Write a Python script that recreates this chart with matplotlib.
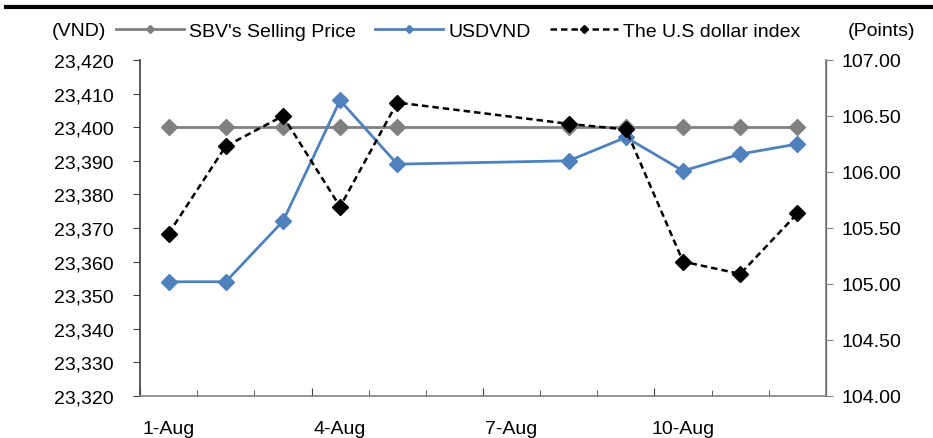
import matplotlib
matplotlib.use("Agg")
import matplotlib.pyplot as plt
from matplotlib.lines import Line2D
from matplotlib.ticker import FuncFormatter, FixedLocator

plt.rcParams['font.family'] = ['Liberation Sans', 'DejaVu Sans']

days = [1, 2, 3, 4, 5, 8, 9, 10, 11, 12]
sbv = [23400, 23400, 23400, 23400, 23400, 23400, 23400, 23400, 23400, 23400]
usdvnd = [23354, 23354, 23372, 23408, 23389, 23390, 23397, 23387, 23392, 23395]
dxy = [105.45, 106.23, 106.50, 105.69, 106.62, 106.43, 106.38, 105.20, 105.09, 105.63]
xlabels = ['1-Aug', '4-Aug', '7-Aug', '10-Aug']
xlabel_days = [1, 4, 7, 10]

fig = plt.figure(figsize=(9.33, 4.39), dpi=100)
ax = fig.add_axes([140/933, 1-397/439, (826-140)/933, (397-61)/439])
ax2 = ax.twinx()

fs = 14
ax.plot(days, sbv, color='#808080', lw=2, marker='D', ms=8, label="SBV's Selling Price", zorder=3)
ax.plot(days, usdvnd, color='#4F81BD', lw=2, marker='D', ms=8, label='USDVND', zorder=3)
ax2.plot(days, dxy, color='black', lw=1.8, ls=(0, (2.6, 1.6)), marker='D', ms=8,
         label='The U.S dollar index', zorder=3)

ax.set_xlim(0.5, 12.5)
ax.set_ylim(23320, 23420)
ax.set_yticks(range(23320, 23421, 10))
ax.yaxis.set_major_formatter(FuncFormatter(lambda v, p: f'{int(v):,}'))
ax2.set_ylim(104.0, 107.0)
ax2.set_yticks([104.0, 104.5, 105.0, 105.5, 106.0, 106.5, 107.0])
ax2.yaxis.set_major_formatter(FuncFormatter(lambda v, p: f'{v:.2f}'))

ax.set_xticks(xlabel_days)
ax.set_xticklabels(xlabels)
ax.xaxis.set_minor_locator(FixedLocator([d + 0.5 for d in range(1, 12)]))
ax.tick_params(axis='x', which='major', length=0, pad=17, labelsize=fs)
ax.tick_params(axis='x', which='minor', length=4, direction='in', color='#404040')
sec = ax.secondary_xaxis('bottom')
sec.set_xticks([0.5, 3.5, 6.5, 9.5])
sec.set_xticklabels([])
sec.tick_params(length=6, direction='in', color='#404040')
sec.spines['bottom'].set_visible(False)

ax.tick_params(axis='y', direction='out', length=5, labelsize=fs, color='#404040', pad=14)
ax2.tick_params(axis='y', direction='out', length=5, labelsize=fs, color='#808080', pad=6)

for a in (ax, ax2):
    a.spines['top'].set_visible(False)
ax.spines['left'].set_color('#404040')
ax.spines['bottom'].set_color('#808080')
ax2.spines['right'].set_color('#808080')
ax2.spines['left'].set_visible(False)
ax2.spines['bottom'].set_visible(False)
for s in ('left', 'bottom'):
    ax.spines[s].set_linewidth(1.2)
ax2.spines['right'].set_linewidth(1.2)

h1, l1 = ax.get_legend_handles_labels()
h2, l2 = ax2.get_legend_handles_labels()
fig.legend(h1 + h2, l1 + l2, loc='center left', bbox_to_anchor=(116/933, 1-32/439), ncol=3,
           frameon=False, fontsize=fs, handlelength=3.5, handletextpad=0.25, columnspacing=1.0,
           markerscale=0.45, borderpad=0, borderaxespad=0)
fig.text(52/933, 1-32/439, '(VND)', fontsize=fs, va='center', ha='left')
fig.text(915/933, 1-32/439, '(Points)', fontsize=fs, va='center', ha='right')

fig.add_artist(Line2D([6/933, 1], [1-8/439, 1-8/439], color='black', lw=3, transform=fig.transFigure))

fig.savefig('out.png', dpi=100)
